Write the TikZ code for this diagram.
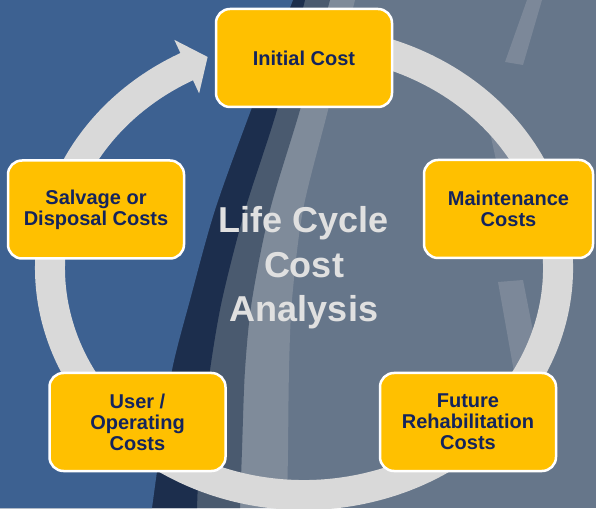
\documentclass[tikz,border=0pt]{standalone}
\usepackage{fontspec}
\setmainfont{Liberation Sans}
\usetikzlibrary{calc}
\definecolor{bgblue}{HTML}{3D6191}
\definecolor{bggray}{HTML}{66768A}
\definecolor{roadnavy}{HTML}{1C2E4D}
\definecolor{darkband}{HTML}{4A5A6F}
\definecolor{lightband}{HTML}{7F8B9A}
\definecolor{lanemark}{HTML}{7C8899}
\definecolor{ringgray}{HTML}{D9D9D9}
\definecolor{boxyellow}{HTML}{FFC000}
\definecolor{textnavy}{HTML}{14245C}
\definecolor{titlegray}{HTML}{E0E0E0}
\begin{document}
\begin{tikzpicture}[x=1pt,y=1pt,
  box/.style={draw=white, line width=2.5pt, fill=boxyellow, rounded corners=14pt,
    minimum width=176pt, minimum height=98pt, align=center, inner sep=0pt,
    font=\bfseries\fontsize{20}{21}\selectfont, text=textnavy},
  titletext/.style={align=center, inner sep=0pt, text=titlegray,
    font=\bfseries\fontsize{36}{44.5}\selectfont},
  ringline/.style={draw=ringgray, line width=30pt},
  lane/.style={fill=lanemark}]
\useasboundingbox (0,0) rectangle (596,508);
% background road scene
\fill[bggray] (0,0) rectangle (596,508);
\fill[lightband] (0,0) -- plot[smooth] coordinates {(287,0) (288,58) (289,138) (292,208) (303,298) (328,398) (355,508)} -- (0,508) -- cycle;
\fill[darkband] (0,0) -- plot[smooth] coordinates {(240,0) (242,58) (245,138) (252,208) (270,298) (300,398) (330,508)} -- (0,508) -- cycle;
\fill[roadnavy] (0,0) -- plot[smooth] coordinates {(197,0) (200,58) (210,138) (222,208) (245,298) (277,398) (305,508)} -- (0,508) -- cycle;
\fill[bgblue] (0,0) -- plot[smooth] coordinates {(152,0) (160,58) (172,138) (190,208) (215,298) (251,398) (293,508)} -- (0,508) -- cycle;
% lane markings
\fill[lane] (527,508) -- (542,508) -- (523,443) -- (505,446) -- cycle;
\fill[lane] (485,398) -- (500,400) -- (512,348) -- (496,348) -- cycle;
\fill[lane] (498,226) -- (523,228) -- (541,136) -- (514,136) -- cycle;
% cycle ring with arrow
\coordinate (c) at (304,240);
\draw[ringline] (c) ++(105:254 and 227) arc[start angle=105, end angle=-243, x radius=254, y radius=227];
\coordinate (abase) at ($(c)+(117.5:254 and 227)$);
\fill[ringgray] ($(abase)+(-12.4,26.8)$) -- ($(abase)+(20.9,9.7)$) -- ($(abase)+(12.4,-26.8)$) -- cycle;
% boxes
\node[box] (init) at (304,450) {Initial Cost};
\node[box, minimum width=169pt] (maint) at (508.5,299) {Maintenance\\Costs};
\node[box] (future) at (468,86) {Future\\Rehabilitation\\Costs};
\node[box] (user) at (137.5,86) {User /\\Operating\\Costs};
\node[box] (salv) at (96,298.5) {Salvage or\\Disposal Costs};
% title
\node[titletext] (lcca) at (304,240) {Life Cycle\\Cost\\Analysis};
\end{tikzpicture}
\end{document}
